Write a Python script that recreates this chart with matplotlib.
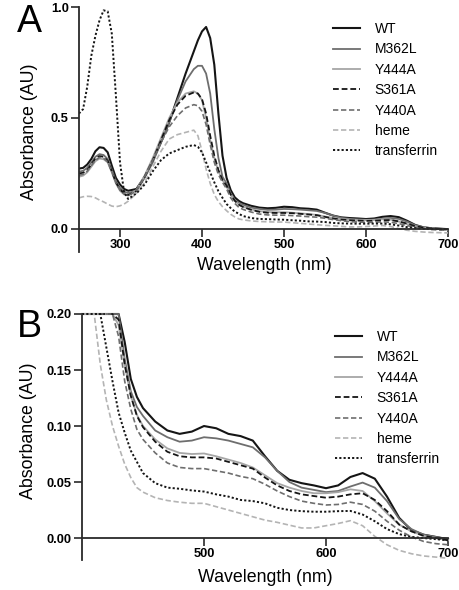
import numpy as np
import matplotlib
matplotlib.use("Agg")
import matplotlib.pyplot as plt

plt.rcParams['font.family'] = ['Liberation Sans', 'DejaVu Sans']

wavelength = [250, 255, 260, 265, 270, 275, 280, 285, 290, 295, 300, 305, 310,
              320, 330, 340, 350, 360, 370, 380, 390, 395, 400, 405, 410, 415,
              420, 425, 430, 435, 440, 445, 450, 460, 470, 480, 490, 500, 510,
              520, 530, 540, 550, 560, 570, 580, 590, 600, 610, 620, 630, 640,
              650, 660, 670, 680, 690, 700]

wt = [0.272, 0.275, 0.29, 0.315, 0.35, 0.368, 0.365, 0.345, 0.285, 0.23, 0.2, 0.18, 0.172,
      0.18, 0.235, 0.31, 0.39, 0.48, 0.59, 0.70, 0.80, 0.85, 0.89, 0.91, 0.86, 0.74,
      0.52, 0.33, 0.23, 0.175, 0.142, 0.126, 0.116, 0.104, 0.096, 0.093, 0.095, 0.100, 0.098,
      0.093, 0.091, 0.087, 0.073, 0.060, 0.052, 0.049, 0.047, 0.0445, 0.047, 0.0545, 0.058, 0.053,
      0.037, 0.018, 0.007, 0.003, 0.001, -0.001]

m362l = [0.258, 0.262, 0.275, 0.30, 0.325, 0.337, 0.333, 0.315, 0.265, 0.215, 0.185, 0.168, 0.162,
         0.172, 0.23, 0.30, 0.39, 0.48, 0.58, 0.665, 0.72, 0.735, 0.735, 0.70, 0.61, 0.45,
         0.32, 0.235, 0.205, 0.16, 0.131, 0.117, 0.109, 0.096, 0.090, 0.086, 0.087, 0.090, 0.089,
         0.087, 0.084, 0.081, 0.072, 0.060, 0.050, 0.045, 0.043, 0.041, 0.042, 0.046, 0.0495, 0.045,
         0.033, 0.017, 0.008, 0.003, 0.001, -0.001]

y444a = [0.235, 0.24, 0.255, 0.28, 0.305, 0.317, 0.314, 0.30, 0.255, 0.205, 0.172, 0.155, 0.15,
         0.175, 0.24, 0.32, 0.41, 0.50, 0.57, 0.61, 0.62, 0.61, 0.58, 0.50, 0.40, 0.32,
         0.26, 0.22, 0.19, 0.155, 0.127, 0.11, 0.100, 0.088, 0.080, 0.076, 0.075, 0.0755, 0.073,
         0.070, 0.067, 0.063, 0.056, 0.049, 0.045, 0.042, 0.040, 0.040, 0.041, 0.0435, 0.042, 0.033,
         0.022, 0.012, 0.006, 0.002, 0.0, -0.002]

s361a = [0.25, 0.253, 0.265, 0.29, 0.318, 0.328, 0.325, 0.307, 0.26, 0.21, 0.178, 0.16, 0.153,
         0.17, 0.235, 0.31, 0.40, 0.49, 0.56, 0.60, 0.615, 0.61, 0.585, 0.52, 0.42, 0.33,
         0.265, 0.22, 0.195, 0.155, 0.127, 0.109, 0.099, 0.086, 0.077, 0.073, 0.072, 0.072, 0.071,
         0.068, 0.065, 0.062, 0.054, 0.047, 0.042, 0.039, 0.0375, 0.036, 0.037, 0.039, 0.040, 0.034,
         0.024, 0.012, 0.006, 0.002, 0.0, -0.002]

y440a = [0.242, 0.246, 0.26, 0.285, 0.31, 0.322, 0.318, 0.302, 0.258, 0.208, 0.175, 0.158, 0.15,
         0.17, 0.235, 0.31, 0.39, 0.46, 0.51, 0.545, 0.56, 0.555, 0.53, 0.47, 0.38, 0.30,
         0.245, 0.21, 0.18, 0.14, 0.115, 0.097, 0.088, 0.076, 0.067, 0.063, 0.062, 0.062, 0.060,
         0.058, 0.055, 0.053, 0.048, 0.042, 0.037, 0.033, 0.031, 0.0295, 0.030, 0.032, 0.030, 0.024,
         0.015, 0.007, 0.001, -0.003, -0.005, -0.006]

heme = [0.14, 0.145, 0.147, 0.146, 0.14, 0.13, 0.122, 0.112, 0.103, 0.10, 0.104, 0.112, 0.125,
        0.16, 0.21, 0.28, 0.35, 0.405, 0.425, 0.435, 0.445, 0.42, 0.35, 0.27, 0.205, 0.155,
        0.123, 0.10, 0.082, 0.066, 0.054, 0.045, 0.041, 0.036, 0.0335, 0.032, 0.031, 0.031, 0.028,
        0.025, 0.022, 0.019, 0.016, 0.014, 0.0115, 0.009, 0.009, 0.011, 0.013, 0.0155, 0.011, 0.0015,
        -0.006, -0.011, -0.014, -0.016, -0.017, -0.018]

transferrin = [0.52, 0.54, 0.64, 0.78, 0.87, 0.94, 0.985, 0.98, 0.88, 0.60, 0.30, 0.165, 0.135,
               0.16, 0.20, 0.26, 0.31, 0.34, 0.355, 0.37, 0.378, 0.37, 0.345, 0.30, 0.255, 0.21,
               0.17, 0.14, 0.112, 0.094, 0.078, 0.068, 0.058, 0.049, 0.045, 0.044, 0.0425, 0.0415, 0.039,
               0.037, 0.034, 0.033, 0.031, 0.027, 0.025, 0.024, 0.0235, 0.0235, 0.024, 0.0242, 0.021, 0.015,
               0.008, 0.0035, 0.001, 0.0, -0.001, -0.002]

labels = ["WT", "M362L", "Y444A", "S361A", "Y440A", "heme", "transferrin"]
series = [wt, m362l, y444a, s361a, y440a, heme, transferrin]
colors = ["#151515", "#6e6e6e", "#a6a6a6", "#151515", "#6e6e6e", "#b4b4b4", "#151515"]
dashes = [None, None, None, (3.2, 1.6), (3.2, 1.6), (3.2, 1.6), (1.1, 1.1)]
widths = [1.5, 1.3, 1.3, 1.3, 1.2, 1.2, 1.4]

W, H = 460, 590
fig = plt.figure(figsize=(W / 100, H / 100), dpi=100)


def fx(px):
    return px / W


def fy(py):
    return 1 - py / H


def style_axes(ax):
    for s in ["top", "right"]:
        ax.spines[s].set_visible(False)
    ax.spines["bottom"].set_position(("data", 0))
    for s in ["left", "bottom"]:
        ax.spines[s].set_linewidth(1.3)
        ax.spines[s].set_color("#2a2a2a")
    ax.tick_params(direction="out", length=5.5, width=1.2, color="#2a2a2a",
                   labelsize=9.3, pad=1.8)
    for lab in ax.get_xticklabels() + ax.get_yticklabels():
        lab.set_fontweight("bold")


def add_legend(ax, left_px, top_px):
    handles = ax.get_lines()
    leg = ax.legend(handles, labels, loc="upper left",
                    bbox_to_anchor=(fx(left_px), fy(top_px)),
                    bbox_transform=fig.transFigure, frameon=False,
                    fontsize=10, handlelength=1.95, handletextpad=1.05,
                    labelspacing=0.46, borderpad=0, borderaxespad=0)
    return leg


wl = np.array(wavelength)

# Panel A
axA = fig.add_axes([fx(79), fy(252), fx(448) - fx(79), fy(7) - fy(252)])
for y, lab, c, d, w in zip(series, labels, colors, dashes, widths):
    kw = dict(color=c, lw=w, label=lab)
    if d is not None:
        kw["dashes"] = d
    axA.plot(wl, y, **kw)
axA.set_xlim(250, 700)
axA.set_ylim(-0.104, 1.0)
axA.set_xticks([300, 400, 500, 600, 700])
axA.set_yticks([0.0, 0.5, 1.0])
axA.set_yticklabels(["0.0", "0.5", "1.0"])
style_axes(axA)
add_legend(axA, 333, 22)

# Panel B
maskB = wl >= 400
axB = fig.add_axes([fx(82), fy(560), fx(448) - fx(82), fy(314) - fy(560)])
for y, lab, c, d, w in zip(series, labels, colors, dashes, widths):
    yb = np.minimum(np.array(y)[maskB], 0.2)
    kw = dict(color=c, lw=w, label=lab, clip_on=False)
    if d is not None:
        kw["dashes"] = d
    axB.plot(wl[maskB], yb, **kw)
axB.set_xlim(400, 700)
axB.set_ylim(-0.0196, 0.2)
axB.set_xticks([500, 600, 700])
axB.set_yticks([0.0, 0.05, 0.10, 0.15, 0.20])
axB.set_yticklabels(["0.00", "0.05", "0.10", "0.15", "0.20"])
style_axes(axB)
add_legend(axB, 335, 330)

# Axis labels and panel letters
for (xc, yc) in [(264.5, 265), (265, 577)]:
    fig.text(fx(xc), fy(yc), "Wavelength (nm)", ha="center", va="center", fontsize=12.8)
for (xc, yc) in [(29.5, 132), (28.5, 431)]:
    fig.text(fx(xc), fy(yc), "Absorbance (AU)", ha="center", va="center",
             rotation=90, fontsize=12.8)
fig.text(fx(17), fy(32), "A", ha="left", va="baseline", fontsize=27)
fig.text(fx(17), fy(337), "B", ha="left", va="baseline", fontsize=27)

fig.savefig("out.png", dpi=100)
